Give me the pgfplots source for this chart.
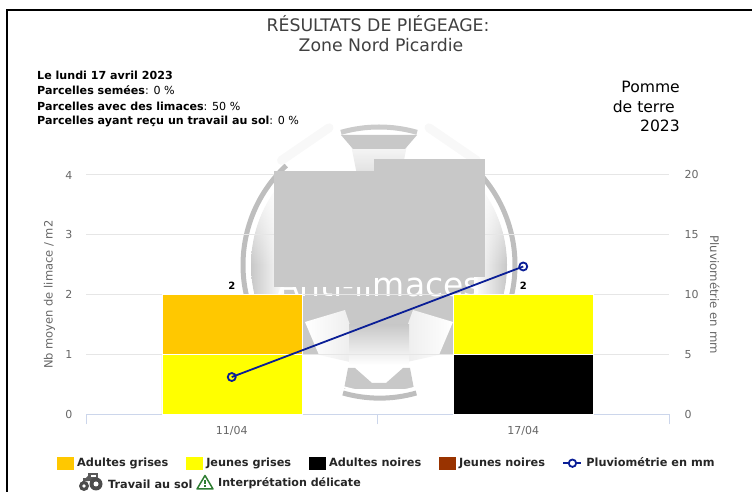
\documentclass[border=0pt]{standalone}
\usepackage{pgfplots}
\pgfplotsset{compat=1.18}
\usepackage{fontspec}
\usetikzlibrary{fadings}
\setmainfont{DejaVu Sans}
\definecolor{tickgray}{HTML}{666666}
\definecolor{gridgray}{HTML}{E6E6E6}
\definecolor{axisblue}{HTML}{CCD6EB}
\definecolor{agrises}{HTML}{FFC800}
\definecolor{jgrises}{HTML}{FFFF00}
\definecolor{jnoires}{HTML}{993300}
\definecolor{pluvio}{HTML}{0A1E96}
\definecolor{wm}{HTML}{C8C8C8}
\definecolor{wmd}{HTML}{BEBEBE}
\definecolor{warn}{HTML}{2E7D32}
\begin{document}
\begin{tikzpicture}[x=1pt,y=1pt]
\path[use as bounding box] (0,0) rectangle (752,492);
% frame
\draw[black,line width=2pt] (6,481.5) -- (752,481.5);
\draw[black,line width=2pt] (7,482) -- (7,0);
% watermark, behind the plot (centre at px 379,265)
\begin{scope}[shift={(379,227)}]
\begin{scope}
\clip (0,0) circle (128);
\fill[wm] (-95,40) rectangle (95,-90);
\shade[top color=white,bottom color=wm] (-95,75) rectangle (95,40);
\shade[left color=white,right color=wm!40] (-74,-57) -- (-34,-45) -- (-16,-100) -- (-60,-90) -- cycle;
\shade[right color=white,left color=wm!40] (74,-57) -- (34,-45) -- (14,-100) -- (60,-90) -- cycle;
\shade[top color=wm,bottom color=white] (-30,-60) rectangle (30,-100);
\shade[bottom color=wm,top color=white] (-30,130) -- (30,130) -- (16,60) -- (-16,60) -- cycle;
\shade[left color=wm,right color=white] (-128,-90) rectangle (-95,0);
\shade[right color=wm,left color=white] (128,-90) rectangle (95,0);
\shade[left color=wm,right color=white,path fading=north] (-128,0) rectangle (-95,90);
\shade[right color=wm,left color=white,path fading=north] (128,0) rectangle (95,90);
\end{scope}
\draw[white,line width=3pt] (0,0) circle (130);
\draw[wmd,line width=5pt] (133:136) arc (133:218:136);
\draw[wmd,line width=5pt] (47:136) arc (47:-38:136);
\draw[gridgray!30,line width=9pt,line cap=round] (133:143) -- (110:146);
\draw[gridgray!30,line width=9pt,line cap=round] (47:143) -- (70:146);
\draw[wmd!80,line width=5pt] (106:138) arc (106:74:138);
\fill[wm] (-38,130) -- (38,130) -- (26,116) -- (-26,116) -- cycle;
\fill[wm] (-31,-103) -- (-24,-103) -- (-7,-118) -- (7,-118) -- (24,-103) -- (31,-103) -- (35,-124) -- (-35,-124) -- cycle;
\draw[white,line width=2pt] (-36,-122) arc (253:287:127);
\draw[wmd,line width=5pt] (-36,-128) arc (254:286:133);
\end{scope}
\node[white,anchor=base,inner sep=0pt,font=\fontsize{33}{34}\selectfont] at (379,195) {Anti-limaces};
\begin{axis}[
  at={(86pt,77.5pt)},anchor=south west,
  scale only axis,width=583pt,height=239.5pt,
  ybar stacked,bar width=140pt,
  xmin=-0.5,xmax=1.5,ymin=0,ymax=4,
  xtick={-0.5,0.5,1.5},xticklabels={,,},
  tick align=outside,
  major tick length=10pt,
  x tick style={axisblue,line width=1pt},
  extra x ticks={0,1},
  extra x tick labels={11/04,17/04},
  extra x tick style={major tick length=0pt,grid=none,x tick style={draw=none},
    tick label style={yshift=-8pt}},
  ytick={0,1,2,3,4},
  ymajorgrids,grid style={gridgray,line width=1pt},
  axis y line*=left,axis x line*=bottom,
  y axis line style={draw=none},
  x axis line style={axisblue,line width=1pt,-},
  y tick style={draw=none},
  tick label style={tickgray,font=\fontsize{11}{13}\selectfont},
  yticklabel style={xshift=0pt},
  ylabel={Nb moyen de limace / m2},
  ylabel style={tickgray,font=\fontsize{11.5}{13}\selectfont,at={(axis description cs:-0.047,0.5)}},
  /pgf/number format/assume math mode=true,
  legend style={at={(axis description cs:-0.05,-0.173)},anchor=north west,draw=none,fill=none,legend columns=5,
    font=\bfseries\fontsize{11.3}{13}\selectfont,text=black!85,inner sep=0pt,outer sep=0pt,
    /tikz/every odd column/.style={column sep=2pt},
    /tikz/every even column/.style={column sep=15.5pt}},
  legend cell align=left,
]
\addplot[fill=jnoires,draw=white,line width=0.5pt,forget plot] coordinates {(0,0) (1,0)};
\addplot[fill=black,draw=white,line width=0.5pt,forget plot] coordinates {(0,0) (1,1)};
\addplot[fill=jgrises,draw=white,line width=0.5pt,forget plot] coordinates {(0,1) (1,1)};
\addplot[fill=agrises,draw=white,line width=0.5pt,forget plot] coordinates {(0,1) (1,0)};
\addlegendimage{legend image code/.code={\fill[agrises] (0pt,-6pt) rectangle (16pt,6pt);}}
\addlegendentry{Adultes grises}
\addlegendimage{legend image code/.code={\fill[jgrises] (0pt,-6pt) rectangle (16pt,6pt);}}
\addlegendentry{Jeunes grises}
\addlegendimage{legend image code/.code={\fill[black] (0pt,-6pt) rectangle (16pt,6pt);}}
\addlegendentry{Adultes noires}
\addlegendimage{legend image code/.code={\fill[jnoires] (0pt,-6pt) rectangle (16pt,6pt);}}
\addlegendentry{Jeunes noires}
\addlegendimage{legend image code/.code={\draw[pluvio,line width=1.8pt] (0pt,0pt) -- (18pt,0pt);\filldraw[pluvio,fill=white,line width=1.8pt] (9pt,0pt) circle (3.7pt);}}
\addlegendentry{Pluviométrie en mm}
\node[font=\bfseries\fontsize{10}{12}\selectfont,anchor=south,yshift=1.5pt] at (axis cs:0,2) {2};
\node[font=\bfseries\fontsize{10}{12}\selectfont,anchor=south,yshift=1.5pt] at (axis cs:1,2) {2};
\end{axis}
\begin{axis}[
  at={(86pt,77.5pt)},anchor=south west,
  scale only axis,width=583pt,height=239.5pt,
  xmin=-0.5,xmax=1.5,ymin=0,ymax=20,
  hide x axis,
  axis y line*=right,
  y axis line style={draw=none},
  y tick style={draw=none},
  ytick={0,5,10,15,20},
  tick label style={tickgray,font=\fontsize{11}{13}\selectfont},
  yticklabel style={xshift=12pt},
  ylabel={Pluviométrie en mm},
  ylabel style={tickgray,font=\fontsize{11.7}{13}\selectfont,rotate=180,at={(axis description cs:1.064,0.5)}},
  /pgf/number format/assume math mode=true,
]
\addplot[pluvio,line width=1.8pt,mark=o,mark size=4pt,mark options={fill=white,line width=1.8pt}] coordinates {(0,3.13) (1,12.36)};
\end{axis}
% redaction blocks over the plot
\fill[wm] (274,205) rectangle (374,321);
\fill[wm] (374,215) rectangle (485,333);
% titles and notes
\node[font=\fontsize{17.3}{19}\selectfont,text=black!75,inner sep=0pt] at (378,468) {RÉSULTATS DE PIÉGEAGE:};
\node[font=\fontsize{17.3}{19}\selectfont,text=black!75,inner sep=0pt] at (381,447) {Zone Nord Picardie};
\node[anchor=west,inner sep=0pt,font=\fontsize{11.1}{12}\selectfont] at (37,416.5) {\textbf{Le lundi 17 avril 2023}};
\node[anchor=west,inner sep=0pt,font=\fontsize{11.1}{12}\selectfont] at (37,401.5) {\textbf{Parcelles semées}: 0 \%};
\node[anchor=west,inner sep=0pt,font=\fontsize{11.1}{12}\selectfont] at (37,386) {\textbf{Parcelles avec des limaces}: 50 \%};
\node[anchor=west,inner sep=0pt,font=\fontsize{11.1}{12}\selectfont] at (37,370.5) {\textbf{Parcelles ayant reçu un travail au sol}: 0 \%};
\node[anchor=east,inner sep=0pt,font=\fontsize{15.6}{16}\selectfont] at (680,405) {Pomme};
\node[anchor=east,inner sep=0pt,font=\fontsize{15.6}{16}\selectfont] at (675,385) {de terre};
\node[anchor=east,inner sep=0pt,font=\fontsize{15.6}{16}\selectfont] at (680,366) {2023};
% second legend row
\fill[black!65] (83,11) rectangle (98,14);
\fill[black!65] (82,10) -- (89,17) -- (89,11) -- cycle;
\fill[black!65] (88,12) rectangle (98,19);
\fill[white] (90.5,14.5) rectangle (95.5,17);
\fill[black!70] (84,6) circle (5); \fill[white] (84,6) circle (1.8);
\fill[black!70] (96,8) circle (6.5); \fill[white] (96,8) circle (2.5);
\node[anchor=base west,inner sep=0pt,font=\bfseries\fontsize{11.3}{13}\selectfont,text=black!85] at (108,3) {Travail au sol};
\draw[warn,line width=1.5pt,line join=round] (197,3) -- (213,3) -- (205,16.5) -- cycle;
\draw[warn,line width=1.4pt] (205,12) -- (205,8) (205,6.6) -- (205,5.4);
\node[anchor=base west,inner sep=0pt,font=\bfseries\fontsize{11.1}{13}\selectfont,text=black!85] at (218,5) {Interprétation délicate};
\end{tikzpicture}
\end{document}
